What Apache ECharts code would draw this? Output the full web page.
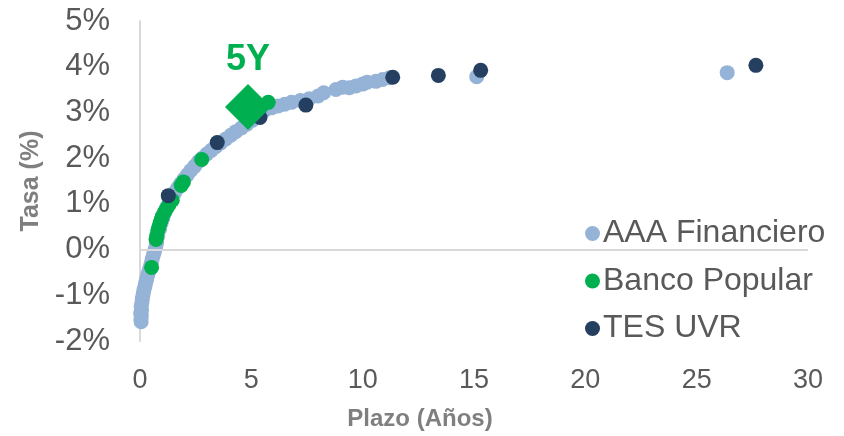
<!DOCTYPE html>
<html>
<head>
<meta charset="utf-8">
<script src="https://cdn.jsdelivr.net/npm/echarts@6/dist/echarts.min.js"></script>
<style>
  html, body { margin: 0; padding: 0; background: #ffffff; }
  #chart { width: 844px; height: 436px; }
</style>
</head>
<body>
<div id="chart"></div>
<script>
// Curva de rendimientos: plazo (años) vs tasa (%)
const seriesNames = ['AAA Financiero', 'Banco Popular', 'TES UVR'];

const aaaFinanciero = [
  [0.05, -1.58], [0.04, -1.52], [0.06, -1.45], [0.03, -1.40], [0.07, -1.33],
  [0.05, -1.25], [0.08, -1.18], [0.10, -1.10], [0.12, -1.02], [0.15, -0.95],
  [0.18, -0.88], [0.22, -0.80], [0.26, -0.72], [0.30, -0.64], [0.35, -0.55],
  [0.40, -0.47], [0.45, -0.40], [0.50, -0.30], [0.55, -0.20], [0.60, -0.12],
  [0.65, -0.04], [0.70, 0.05], [0.75, 0.15], [0.80, 0.30], [0.88, 0.45],
  [0.95, 0.58], [1.02, 0.68], [1.10, 0.80], [1.20, 0.92], [1.30, 1.02],
  [1.42, 1.13], [1.55, 1.24], [1.68, 1.34], [1.82, 1.44], [1.98, 1.54],
  [2.12, 1.63], [2.28, 1.73], [2.45, 1.82], [2.62, 1.92], [2.80, 2.00],
  [3.00, 2.09], [3.20, 2.17], [3.40, 2.25], [3.62, 2.33], [3.85, 2.42],
  [4.08, 2.50], [4.30, 2.58], [4.55, 2.66], [4.80, 2.74], [5.05, 2.83],
  [5.30, 2.92], [5.60, 3.05], [5.90, 3.10], [6.20, 3.14], [6.50, 3.18],
  [6.80, 3.22], [7.20, 3.26], [7.60, 3.30], [8.00, 3.36], [8.25, 3.43],
  [8.80, 3.50], [9.10, 3.55], [9.40, 3.54], [9.70, 3.58], [10.00, 3.62],
  [10.20, 3.66], [10.60, 3.68], [10.90, 3.72], [11.20, 3.76],
  [15.12, 3.78], [26.37, 3.87]
];

const bancoPopular = [
  [0.52, -0.39], [0.72, 0.22], [0.75, 0.30], [0.80, 0.42], [0.85, 0.50],
  [0.90, 0.58], [0.95, 0.65], [1.00, 0.72], [1.10, 0.82], [1.20, 0.90],
  [1.30, 0.98], [1.45, 1.08], [1.85, 1.40], [1.95, 1.48], [2.77, 1.97],
  [5.76, 3.22]
];

const tesUvr = [
  [1.27, 1.18], [3.47, 2.34], [5.39, 2.89], [7.45, 3.16], [11.35, 3.77],
  [13.40, 3.81], [15.30, 3.92], [27.66, 4.03]
];

// Nodo de referencia a 5 años
const puntoCincoAnios = [[4.85, 3.12]];
const etiquetaCincoAnios = '5Y';

const xTicks = { min: 0, max: 30, step: 5 };
const yTicks = { min: -2, max: 5, step: 1 };

const colors = {
  aaa: '#95B3D7',
  banco: '#00B050',
  tes: '#243F60',
  text: '#595959',
  title: '#7F7F7F',
  line: '#D9D9D9'
};

const chart = echarts.init(document.getElementById('chart'), null, { renderer: 'canvas' });

const dotSeries = (name, data, color) => ({
  name: name,
  type: 'scatter',
  data: data,
  symbol: 'circle',
  symbolSize: 15,
  itemStyle: { color: color, opacity: 1 },
  emphasis: { disabled: true }
});

chart.setOption({
  animation: false,
  textStyle: { fontFamily: 'Liberation Sans, Arial, sans-serif' },
  grid: { left: 140, right: 36, top: 21, bottom: 92, containLabel: false },
  legend: {
    data: seriesNames,
    orient: 'vertical',
    left: 580,
    top: 212,
    icon: 'circle',
    itemWidth: 15,
    itemHeight: 15,
    itemGap: 14.5,
    textStyle: { color: colors.text, fontSize: 32, lineHeight: 33, padding: [0, 0, 0, -2] }
  },
  xAxis: {
    type: 'value',
    min: xTicks.min,
    max: xTicks.max,
    interval: xTicks.step,
    name: 'Plazo (Años)',
    nameLocation: 'middle',
    nameGap: 66,
    nameTextStyle: { color: colors.title, fontSize: 24, fontWeight: 'bold', padding: [0, 108, 0, 0] },
    axisLine: { show: false, onZero: false },
    axisTick: { show: false },
    splitLine: { show: false },
    axisLabel: { color: colors.text, fontSize: 27, margin: 26 }
  },
  yAxis: {
    type: 'value',
    min: yTicks.min,
    max: yTicks.max,
    interval: yTicks.step,
    name: 'Tasa (%)',
    nameLocation: 'middle',
    nameGap: 96,
    nameTextStyle: { color: colors.title, fontSize: 25, fontWeight: 'bold' },
    axisLine: { show: true, lineStyle: { color: colors.line, width: 2 } },
    axisTick: { show: false },
    splitLine: { show: false },
    axisLabel: { color: colors.text, fontSize: 31, margin: 30, formatter: v => v + '%' }
  },
  series: [
    Object.assign(dotSeries(seriesNames[0], aaaFinanciero, colors.aaa), {
      markLine: {
        silent: true,
        symbol: 'none',
        label: { show: false },
        lineStyle: { color: colors.line, width: 2, type: 'solid' },
        data: [{ yAxis: 0 }]
      }
    }),
    dotSeries(seriesNames[1], bancoPopular, colors.banco),
    dotSeries(seriesNames[2], tesUvr, colors.tes),
    {
      name: etiquetaCincoAnios,
      type: 'scatter',
      data: puntoCincoAnios,
      symbol: 'diamond',
      symbolSize: 46,
      itemStyle: { color: colors.banco, opacity: 1 },
      emphasis: { disabled: true },
      label: {
        show: true,
        position: 'top',
        distance: 6,
        formatter: etiquetaCincoAnios,
        color: colors.banco,
        fontSize: 36,
        fontWeight: 'bold'
      }
    }
  ]
});
</script>
</body>
</html>
